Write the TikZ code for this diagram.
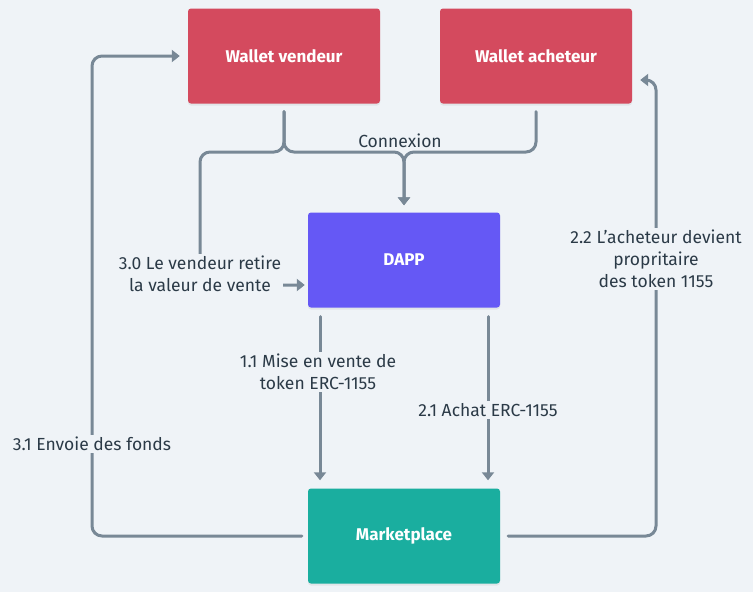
\documentclass[tikz,border=0pt]{standalone}
\usepackage{fontspec}
\setmainfont{Fira Sans}
\usetikzlibrary{arrows.meta,shadows}
\definecolor{bgc}{HTML}{EFF3F7}
\definecolor{redc}{HTML}{D44A5E}
\definecolor{purc}{HTML}{6558F5}
\definecolor{tealc}{HTML}{1AAE9F}
\definecolor{linec}{HTML}{788896}
\definecolor{txtc}{HTML}{2B3A47}
\tikzset{
  boxnode/.style={minimum width=192pt,minimum height=95pt,rounded corners=3pt,
    text=white,font=\fontsize{17}{20}\selectfont\bfseries,inner sep=0pt,
    drop shadow={opacity=0.12,shadow xshift=0pt,shadow yshift=-2pt}},
  conn/.style={draw=linec,line width=3pt,rounded corners=10pt,line cap=round},
  arr/.style={conn,-{Triangle[width=12pt,length=8pt]}},
  elabel/.style={fill=bgc,text=txtc,font=\fontsize{17.5}{22}\selectfont,align=center,inner sep=2pt}
}
\begin{document}
\begin{tikzpicture}[x=1pt,y=-1pt]
\fill[bgc] (0,0) rectangle (753,592);
\useasboundingbox (0,0) rectangle (753,592);
% boxes
\node[boxnode,fill=redc] (wv) at (284,56) {Wallet vendeur};
\node[boxnode,fill=redc] (wa) at (536,56) {Wallet acheteur};
\node[boxnode,fill=purc] (dapp) at (404,260) {DAPP};
\node[boxnode,fill=tealc] (mk) at (404,536) {Marketplace};
% bend coordinates
\coordinate (jv) at (284,152);
\coordinate (ja) at (536,152);
\coordinate (cl) at (200,152);
\coordinate (cd) at (200,285);
\coordinate (bl) at (92,536);
\coordinate (tl) at (92,56);
\coordinate (br) at (656,536);
\coordinate (tr) at (656,80);
% connexion
\draw[arr,shorten <=8pt,shorten >=7pt] (wv.south) -- (jv) -| (dapp.north);
\draw[arr,shorten <=8pt,shorten >=7pt] (wa.south) -- (ja) -| (dapp.north);
% 3.0
\draw[arr,shorten <=8pt,shorten >=3pt] (wv.south) -- (jv) -- (cl) -- (cd) -- (dapp.west |- cd);
\node[elabel] at (200,274) {3.0 Le vendeur retire\\la valeur de vente};
\node[text=txtc,font=\fontsize{17.5}{20}\selectfont] at (400,141) {Connexion};
% 1.1 and 2.1
\draw[arr,shorten <=9pt,shorten >=8pt] ([xshift=-84pt]dapp.south) -- ([xshift=-84pt]mk.north);
\node[elabel] at (318,372) {1.1 Mise en vente de\\token ERC-1155};
\draw[arr,shorten <=9pt,shorten >=8pt] ([xshift=84pt]dapp.south) -- ([xshift=84pt]mk.north);
\node[elabel] at (488,410) {2.1 Achat ERC-1155};
% 2.2
\draw[arr,shorten <=8pt,shorten >=8pt] (mk.east) -- (br) -- (tr) -- (wa.east |- tr);
\node[elabel] at (656,259) {2.2 L'acheteur devient\\propritaire\\des token 1155};
% 3.1
\draw[arr,shorten <=6pt,shorten >=8pt] (mk.west) -- (bl) -- (tl) -- (wv.west);
\node[elabel] at (92,444) {3.1 Envoie des fonds};
\end{tikzpicture}
\end{document}
